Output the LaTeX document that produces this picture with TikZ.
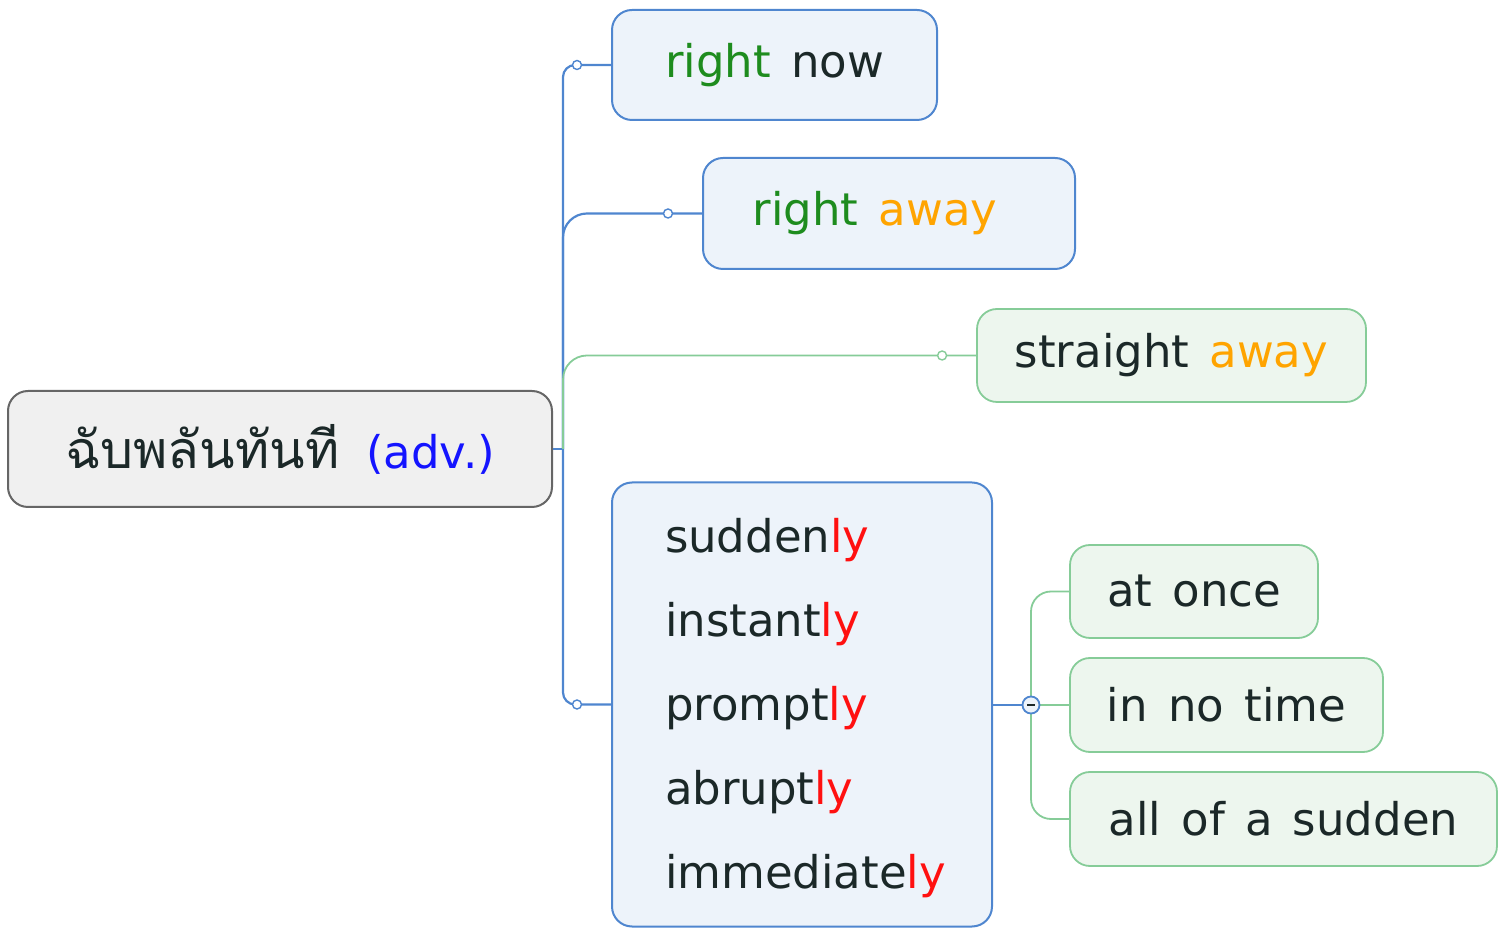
\documentclass[tikz,border=0pt]{standalone}
\usepackage{fontspec}
\setmainfont{DejaVu Sans}
\newfontfamily\thaifont[Script=Thai]{Loma}
\definecolor{blueline}{HTML}{4F86CF}
\definecolor{bluefill}{HTML}{EDF3FA}
\definecolor{greenline}{HTML}{86CC98}
\definecolor{greenfill}{HTML}{EDF6EE}
\definecolor{rootline}{HTML}{666666}
\definecolor{rootfill}{HTML}{F0F0F0}
\definecolor{txt}{HTML}{1B2828}
\definecolor{wgreen}{HTML}{1E8C1E}
\definecolor{worange}{HTML}{FFA400}
\definecolor{wred}{HTML}{FF1010}
\definecolor{wblue}{HTML}{1414FF}
\newcommand{\wsp}{\hspace{0.45em}}
\tikzset{
  topicbox/.style={draw=blueline, fill=bluefill, line width=1pt, rounded corners=10pt, text=txt, inner sep=0pt},
  subbox/.style={draw=greenline, fill=greenfill, line width=0.9pt, rounded corners=10pt, text=txt, inner sep=0pt},
  rootbox/.style={draw=rootline, fill=rootfill, line width=1pt, rounded corners=10pt, text=txt, inner sep=0pt},
  blueconn/.style={draw=blueline, line width=1.1pt},
  greenconn/.style={draw=greenline, line width=0.9pt},
  knob/.style={circle, draw=#1, fill=white, line width=0.7pt, minimum size=4.5pt, inner sep=0pt},
  collapse/.style={circle, draw=blueline, fill=bluefill, line width=0.9pt, minimum size=8.5pt, inner sep=0pt},
}
\begin{document}
\begin{tikzpicture}[x=0.5pt, y=-0.5pt, font=\fontsize{22.5}{27}\selectfont]
\useasboundingbox (0,0) rectangle (1505,929);
% boxes
\node[rootbox, minimum width=272pt, minimum height=58pt] (root) at (280,449)
  {{\thaifont\fontsize{26}{30}\selectfont ฉับพลันทันที}\hspace{0.6em}\textcolor{wblue}{(adv.)}};
\node[topicbox, minimum width=162.5pt, minimum height=55pt] (rnow) at (774.5,65)
  {\textcolor{wgreen}{right}\wsp now};
\node[topicbox, minimum width=186pt, minimum height=55.5pt] (raway) at (889,213.5)
  {\hspace{-14pt}\textcolor{wgreen}{right}\wsp\textcolor{worange}{away}};
\node[subbox, minimum width=194.5pt, minimum height=46.5pt] (straight) at (1171.5,355.5)
  {straight\wsp\textcolor{worange}{away}};
\node[topicbox, minimum width=190pt, minimum height=222pt, align=left, text width=137pt, inner xsep=26.5pt,
      font=\fontsize{22.5}{42}\selectfont] (big) at (802,704.5)
  {\rule{0pt}{21pt}sudden\textcolor{wred}{ly}\\instant\textcolor{wred}{ly}\\prompt\textcolor{wred}{ly}\\abrupt\textcolor{wred}{ly}\\immediate\textcolor{wred}{ly}};
\node[subbox, minimum width=124pt, minimum height=46.5pt] (atonce) at (1194,591.5)
  {at\wsp once};
\node[subbox, minimum width=156.5pt, minimum height=47pt] (notime) at (1226.5,705)
  {in\wsp no\wsp time};
\node[subbox, minimum width=213.5pt, minimum height=47pt] (sudden) at (1283.5,819)
  {all\wsp of\wsp a\wsp sudden};
% connectors from root
\coordinate (trunk) at (563,449);
\draw[blueconn] (root.east) -- (trunk);
\draw[blueconn, rounded corners=6pt] (trunk) |- (rnow.west);
\draw[blueconn, rounded corners=12pt] (trunk) |- (raway.west);
\draw[blueconn, rounded corners=6pt] (trunk) |- (big.west);
\draw[greenconn, rounded corners=12pt] (trunk) |- (straight.west);
% knobs
\node[knob=blueline] (k1) at ([xshift=-17pt]rnow.west) {};
\node[knob=blueline] (k2) at ([xshift=-17pt]raway.west) {};
\node[knob=greenline] (k3) at ([xshift=-17pt]straight.west) {};
\node[knob=blueline] (k4) at ([xshift=-17pt]big.west) {};
% sub-branches
\coordinate (cc) at (1031,705);
\draw[greenconn, rounded corners=10pt] (cc) |- (atonce.west);
\draw[greenconn] (cc) -- (notime.west);
\draw[greenconn, rounded corners=10pt] (cc) |- (sudden.west);
\draw[blueconn] (big.east |- cc) -- (cc);
\node[collapse] (col) at (cc) {};
\draw[txt, line width=0.9pt] ([xshift=-2pt]col.center) -- ([xshift=2pt]col.center);
\end{tikzpicture}
\end{document}
